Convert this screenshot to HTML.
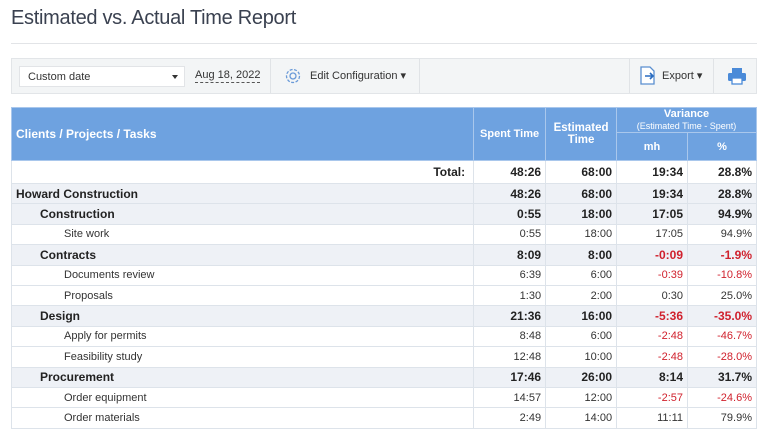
<!DOCTYPE html>
<html><head><style>
*{margin:0;padding:0;box-sizing:border-box}
body{width:768px;height:436px;background:#fff;font-family:"Liberation Sans",sans-serif;color:#222;position:relative;overflow:hidden}
.title{position:absolute;left:11px;top:7px;font-size:20px;color:#3a4150;letter-spacing:-0.3px}
.hr{position:absolute;left:11px;top:43px;width:746px;height:1px;background:#e2e4e7}
.tb{position:absolute;left:11px;top:58px;width:746px;height:36px;background:#f3f5f6;border:1px solid #e2e5e8}
.sep{position:absolute;top:0;width:1px;height:34px;background:#e0e3e6}
.dd{position:absolute;left:7px;top:7px;width:166px;height:21px;background:#fff;border:1px solid #e2e4e7;font-size:11px;padding:4px 0 0 8px;color:#333}
.dd:after{content:"";position:absolute;right:6px;top:8px;border:3.5px solid transparent;border-top:4px solid #333}
.t{position:absolute;font-size:11px;color:#333}
table{position:absolute;left:11px;top:107px;width:746px;border-collapse:collapse;font-size:11px}
td,th{border:1px solid #dde3ea;padding:0 5px;white-space:nowrap}
td{color:#333}
th{background:#6ea2e0;color:#fff;font-weight:bold;border-color:#a9c7ec}
td.n{text-align:right;padding-right:4px}
tr.g td{background:#eef1f6;font-weight:bold;font-size:12px;color:#222}
tr.b td{font-weight:bold;font-size:12px;color:#222}
table tr td.r{color:#d0212d}
.i1{padding-left:28px}.i2{padding-left:52px}
</style></head><body>
<div class="title">Estimated vs. Actual Time Report</div>
<div class="hr"></div>
<div class="tb">
<div class="dd">Custom date</div>
<div class="t" style="left:183px;top:10px;border-bottom:1px dashed #555;padding-bottom:1px">Aug 18, 2022</div>
<div class="sep" style="left:258px"></div>
<svg style="position:absolute;left:272px;top:8px" width="18" height="18" viewBox="0 0 18 18"><circle cx="9" cy="9" r="3" fill="none" stroke="#6a9ad8" stroke-width="1.3"/><circle cx="9" cy="9" r="6.5" fill="none" stroke="#6a9ad8" stroke-width="1.3" stroke-dasharray="3 1.5"/></svg>
<div class="t" style="left:298px;top:10px">Edit Configuration ▾</div>
<div class="sep" style="left:407px"></div>
<div class="sep" style="left:617px"></div>
<svg style="position:absolute;left:627px;top:7px" width="18" height="20" viewBox="0 0 18 20"><path d="M2 1h9l4 4v13H2z" fill="#fff" stroke="#5a8fd0" stroke-width="1.3"/><path d="M6 10h8m-3-3l3 3-3 3" fill="none" stroke="#2a6cc0" stroke-width="1.6"/></svg>
<div class="t" style="left:650px;top:10px">Export ▾</div>
<div class="sep" style="left:701px"></div>
<svg style="position:absolute;left:715px;top:8px" width="20" height="18" viewBox="0 0 20 18"><rect x="5" y="1" width="10" height="5" fill="#4a8ad8"/><rect x="1" y="6" width="18" height="8" rx="1.5" fill="#4a8ad8"/><rect x="5" y="11" width="10" height="6" fill="#fff" stroke="#4a8ad8" stroke-width="1.3"/></svg>
</div>
<table>
<colgroup><col style="width:463px"><col style="width:72px"><col style="width:71px"><col style="width:71px"><col style="width:69px"></colgroup>
<tr style="height:25px"><th rowspan="2" style="text-align:left;padding-left:4px;font-size:12px">Clients / Projects / Tasks</th><th rowspan="2">Spent Time</th><th rowspan="2" style="font-size:11.5px">Estimated<br>Time</th><th colspan="2" style="font-size:11px;line-height:12px">Variance<br><span style="font-weight:normal;font-size:9px">(Estimated Time - Spent)</span></th></tr>
<tr style="height:28px"><th>mh</th><th>%</th></tr>
<tr class="b" style="height:23px"><td class="n" style="padding-right:8px">Total:</td><td class="n">48:26</td><td class="n">68:00</td><td class="n">19:34</td><td class="n">28.8%</td></tr>
<tr class="g" style="height:20.4px"><td style="padding-left:4px">Howard Construction</td><td class="n">48:26</td><td class="n">68:00</td><td class="n">19:34</td><td class="n">28.8%</td></tr>
<tr class="g" style="height:20.4px"><td class="i1">Construction</td><td class="n">0:55</td><td class="n">18:00</td><td class="n">17:05</td><td class="n">94.9%</td></tr>
<tr style="height:20.4px"><td class="i2">Site work</td><td class="n">0:55</td><td class="n">18:00</td><td class="n">17:05</td><td class="n">94.9%</td></tr>
<tr class="g" style="height:20.4px"><td class="i1">Contracts</td><td class="n">8:09</td><td class="n">8:00</td><td class="n r">-0:09</td><td class="n r">-1.9%</td></tr>
<tr style="height:20.4px"><td class="i2">Documents review</td><td class="n">6:39</td><td class="n">6:00</td><td class="n r">-0:39</td><td class="n r">-10.8%</td></tr>
<tr style="height:20.4px"><td class="i2">Proposals</td><td class="n">1:30</td><td class="n">2:00</td><td class="n">0:30</td><td class="n">25.0%</td></tr>
<tr class="g" style="height:20.4px"><td class="i1">Design</td><td class="n">21:36</td><td class="n">16:00</td><td class="n r">-5:36</td><td class="n r">-35.0%</td></tr>
<tr style="height:20.4px"><td class="i2">Apply for permits</td><td class="n">8:48</td><td class="n">6:00</td><td class="n r">-2:48</td><td class="n r">-46.7%</td></tr>
<tr style="height:20.4px"><td class="i2">Feasibility study</td><td class="n">12:48</td><td class="n">10:00</td><td class="n r">-2:48</td><td class="n r">-28.0%</td></tr>
<tr class="g" style="height:20.4px"><td class="i1">Procurement</td><td class="n">17:46</td><td class="n">26:00</td><td class="n">8:14</td><td class="n">31.7%</td></tr>
<tr style="height:20.4px"><td class="i2">Order equipment</td><td class="n">14:57</td><td class="n">12:00</td><td class="n r">-2:57</td><td class="n r">-24.6%</td></tr>
<tr style="height:20.4px"><td class="i2">Order materials</td><td class="n">2:49</td><td class="n">14:00</td><td class="n">11:11</td><td class="n">79.9%</td></tr>
</table>
</body></html>
